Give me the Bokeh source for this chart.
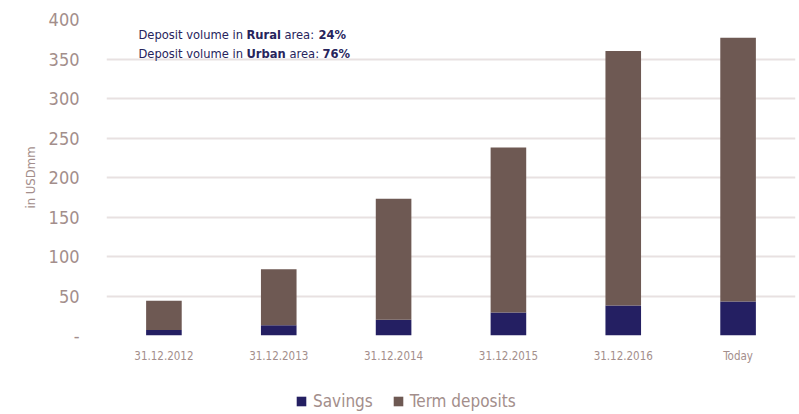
from bokeh.plotting import figure
from bokeh.layouts import column
from bokeh.models import ColumnDataSource, Label, Legend, FixedTicker, Range1d, FactorRange
from bokeh.embed import file_html
from bokeh.resources import INLINE

categories = ["31.12.2012", "31.12.2013", "31.12.2014", "31.12.2015", "31.12.2016", "Today"]
savings = [7, 13, 20, 29, 38, 43]
term_deposits = [37, 71, 153, 209, 322, 334]
y_ticks = [0, 50, 100, 150, 200, 250, 300, 350, 400]
series_names = ["Savings", "Term deposits"]

FONT = "DejaVu Sans Condensed"
TXT = "#a38e8b"
NAVY = "#241f62"
BROWN = "#6e5953"
ANN = "#27245c"

src = ColumnDataSource(dict(cat=categories, Savings=savings, Term=term_deposits))

p = figure(width=797, height=375, x_range=FactorRange(*categories), y_range=Range1d(0, 400),
           output_backend="svg", toolbar_location=None,
           min_border_top=19, min_border_right=2, min_border_left=106, min_border_bottom=40)
p.outline_line_color = None

r = p.vbar_stack(["Savings", "Term"], x="cat", width=0.31, source=src,
                 color=[NAVY, BROWN], line_color=None)

p.xgrid.grid_line_color = None
p.ygrid.grid_line_color = "#e8e1e1"
p.ygrid.grid_line_width = 2
p.yaxis.ticker = FixedTicker(ticks=y_ticks)
p.yaxis.major_label_overrides = {0: "-"}
for ax in (p.xaxis[0], p.yaxis[0]):
    ax.axis_line_color = None
    ax.major_tick_line_color = None
    ax.minor_tick_line_color = None
    ax.major_tick_out = 0
    ax.major_tick_in = 0
    ax.minor_tick_out = 0
    ax.major_label_text_color = TXT
    ax.major_label_text_font = FONT
p.yaxis.major_label_text_font_size = "18px"
p.yaxis.major_label_standoff = 27
p.xaxis.major_label_text_font_size = "11.5px"
p.xaxis.major_label_standoff = 13
p.yaxis.axis_label = "in USDmm"
p.yaxis.axis_label_text_font = FONT
p.yaxis.axis_label_text_font_size = "13px"
p.yaxis.axis_label_text_font_style = "normal"
p.yaxis.axis_label_text_color = TXT
p.yaxis.axis_label_standoff = 8

segs1 = [(0, "Deposit volume in", "normal"), (108, "Rural", "bold"), (146, "area:", "normal"), (180, "24%", "bold")]
segs2 = [(0, "Deposit volume in", "normal"), (108, "Urban", "bold"), (151, "area:", "normal"), (184, "76%", "bold")]
for yv, ss in ((301, segs1), (282, segs2)):
    for off, t, st in ss:
        p.add_layout(Label(x=32 + off, y=yv, x_units="screen", y_units="screen", text=t,
                           text_font=FONT, text_font_size="12.8px",
                           text_font_style=st, text_color=ANN, text_baseline="middle"))

# legend strip (dummy renderers lie far outside the visible ranges; only their swatches show)
pl = figure(width=797, height=37, x_range=Range1d(0, 1), y_range=Range1d(0, 1),
            output_backend="svg", toolbar_location=None,
            x_axis_location=None, y_axis_location=None, min_border=0)
pl.outline_line_color = None
pl.grid.grid_line_color = None
d1 = pl.vbar(x=[0.5], top=[-5], bottom=-6, width=0.1, color=NAVY, line_color=None)
d2 = pl.vbar(x=[0.5], top=[-5], bottom=-6, width=0.1, color=BROWN, line_color=None)
legend = Legend(items=[(series_names[0], [d1]), (series_names[1], [d2])],
                orientation="horizontal", location=(189, 1),
                label_text_font=FONT, label_text_font_size="17px", label_text_color=TXT,
                glyph_width=12, glyph_height=12, spacing=19, label_standoff=6,
                padding=0, margin=0,
                border_line_color=None, background_fill_alpha=0)
pl.add_layout(legend, "center")

lay = column(p, pl, spacing=0)
open("out.html", "w").write(file_html(lay, INLINE))
